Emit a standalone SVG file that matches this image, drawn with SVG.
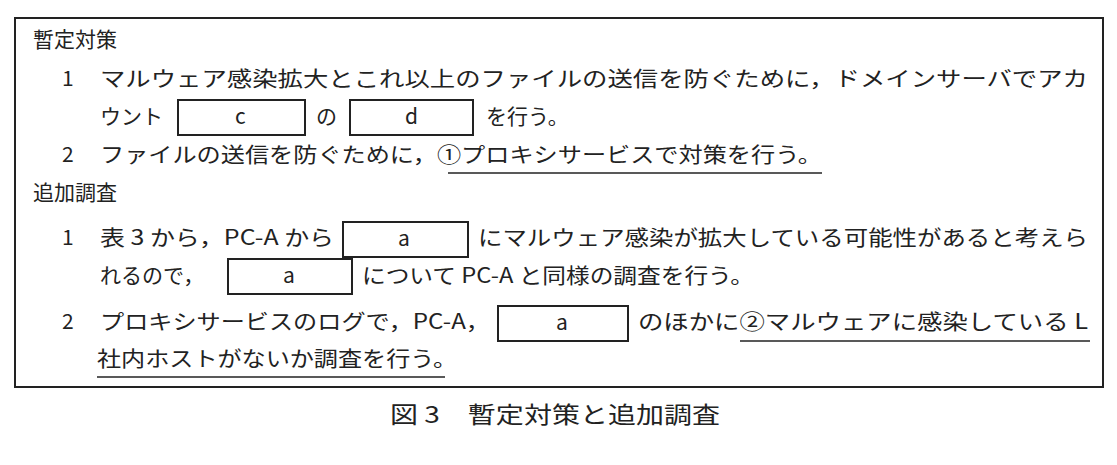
<svg xmlns="http://www.w3.org/2000/svg" width="1117" height="465" viewBox="0 0 1117 465">
<style>
text{font-family:"Noto Sans CJK JP","Noto Sans",sans-serif;font-size:21px;fill:#222}
.b{fill:none;stroke:#222;stroke-width:2}
.u{stroke:#222;stroke-width:1.5}
</style>
<rect width="1117" height="465" fill="#fff"/>
<g id="frame"><rect class="b" x="15" y="18" width="1088" height="369"/></g>
<g id="text">
<text x="33" y="47">暫定対策</text>
<text x="62" y="86">1</text>
<text x="100" y="86" textLength="988" lengthAdjust="spacingAndGlyphs">マルウェア感染拡大とこれ以上のファイルの送信を防ぐために，ドメインサーバでアカ</text>
<text x="100" y="124">ウント</text>
<rect class="b" x="178" y="100" width="127" height="35"/><text x="235" y="124">c</text>
<text x="316" y="124">の</text>
<rect class="b" x="350" y="100" width="123" height="35"/><text x="405" y="124">d</text>
<text x="486" y="124">を行う。</text>
<text x="62" y="162">2</text>
<text x="100" y="162" textLength="722" lengthAdjust="spacingAndGlyphs">ファイルの送信を防ぐために，①プロキシサービスで対策を行う。</text>
<line class="u" x1="448" y1="173" x2="822" y2="173"/>
<text x="33" y="200">追加調査</text>
<text x="62" y="245">1</text>
<text x="100" y="245" textLength="234" lengthAdjust="spacingAndGlyphs">表 3 から，PC-A から</text>
<rect class="b" x="343" y="222" width="125" height="35"/><text x="398" y="246">a</text>
<text x="478" y="245" textLength="610" lengthAdjust="spacingAndGlyphs">にマルウェア感染が拡大している可能性があると考えら</text>
<text x="100" y="283">れるので，</text>
<rect class="b" x="228" y="259" width="124" height="35"/><text x="283" y="283">a</text>
<text x="362" y="283" textLength="392" lengthAdjust="spacingAndGlyphs">について PC-A と同様の調査を行う。</text>
<text x="62" y="329">2</text>
<text x="100" y="329" textLength="390" lengthAdjust="spacingAndGlyphs">プロキシサービスのログで，PC-A，</text>
<rect class="b" x="498" y="306" width="130" height="35"/><text x="556" y="330">a</text>
<text x="638" y="329" textLength="450" lengthAdjust="spacingAndGlyphs">のほかに②マルウェアに感染している L</text>
<line class="u" x1="740" y1="341" x2="1090" y2="341"/>
<text x="97" y="366" textLength="360" lengthAdjust="spacingAndGlyphs">社内ホストがないか調査を行う。</text>
<line class="u" x1="97" y1="377" x2="445" y2="377"/>
<text x="390" y="423" textLength="330" lengthAdjust="spacingAndGlyphs" style="font-size:23px">図 3　暫定対策と追加調査</text>
</g>
</svg>
